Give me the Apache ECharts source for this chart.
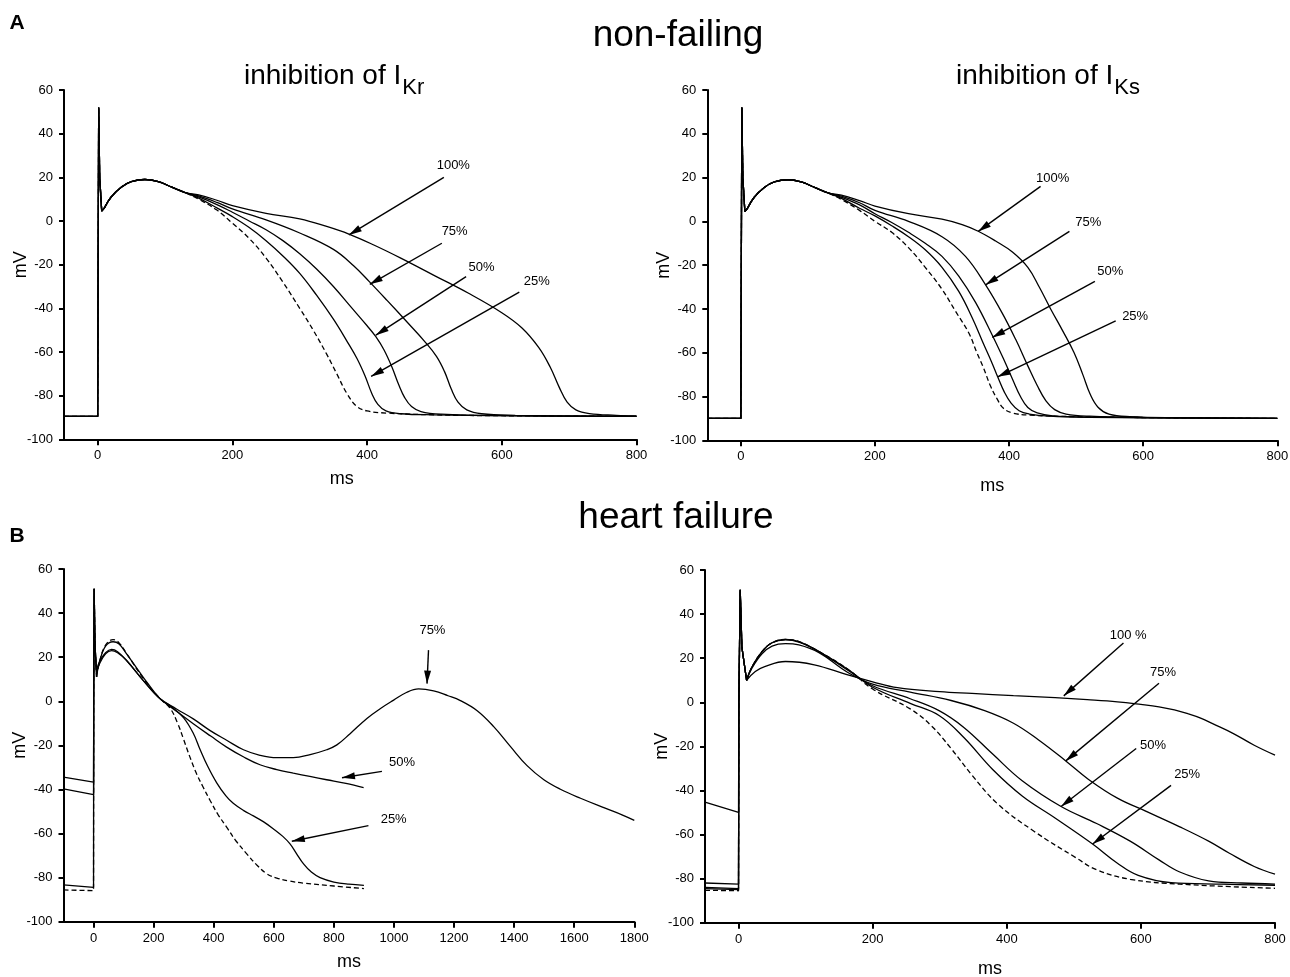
<!DOCTYPE html>
<html>
<head>
<meta charset="utf-8">
<script src="https://cdn.jsdelivr.net/npm/echarts@6.0.0/dist/echarts.min.js"></script>
<style>
html,body{margin:0;padding:0;background:#fff;}
#c{width:1290px;height:977px;}
</style>
</head>
<body>
<div id="c"></div>
<script>
// ================= DATA (time in ms, membrane potential in mV) =================
// Axis ticks
const msTicksShort = [0, 200, 400, 600, 800];
const msTicksLong = [0, 200, 400, 600, 800, 1000, 1200, 1400, 1600, 1800];
const mvTicks = [-100, -80, -60, -40, -20, 0, 20, 40, 60];

// ---- A, non-failing, inhibition of IKr ----
const nfKrControl = [[-50,-89.5],[0,-89.5],[0.5,-40],[1.5,52],[3,20],[6,4.5],[10,6],[20,11],[35,15.5],[50,18],[70,19],[90,18],[110,15.5],[130,13],[150,10],[177,5],[200,-1],[225,-8],[250,-17],[275,-28],[300,-40],[320,-50],[340,-61],[355,-70],[370,-79],[385,-85],[400,-87],[430,-88],[500,-88.8],[600,-89.2],[800,-89.5]];
const nfKr25 = [[-50,-89.5],[0,-89.5],[0.5,-40],[1.5,52],[3,20],[6,4.5],[10,6],[20,11],[35,15.5],[50,18],[70,19],[90,18],[110,15.5],[130,13],[150,10.5],[177,6],[200,2],[225,-3],[250,-9],[275,-16],[300,-24],[325,-34],[350,-45],[370,-55],[385,-63],[397,-71],[407,-79],[416,-84],[428,-87],[450,-88.3],[500,-88.8],[600,-89.2],[800,-89.5]];
const nfKr50 = [[-50,-89.5],[0,-89.5],[0.5,-40],[1.5,52],[3,20],[6,4.5],[10,6],[20,11],[35,15.5],[50,18],[70,19],[90,18],[110,15.5],[130,13],[150,11],[177,7.5],[200,4],[225,0],[250,-4],[275,-9],[300,-15],[325,-22],[350,-30],[375,-39],[400,-48],[413,-53],[425,-59],[437,-67],[447,-75],[456,-81],[466,-85],[480,-87.3],[510,-88.5],[600,-89.2],[800,-89.5]];
const nfKr75 = [[-50,-89.5],[0,-89.5],[0.5,-40],[1.5,52],[3,20],[6,4.5],[10,6],[20,11],[35,15.5],[50,18],[70,19],[90,18],[110,15.5],[130,13],[150,11.5],[177,8.5],[200,5.5],[250,0.5],[300,-5.5],[350,-13],[380,-20.5],[404,-28],[430,-36.5],[460,-46.5],[485,-55],[503,-62],[515,-69],[525,-77],[535,-83],[548,-86.5],[570,-88.3],[620,-89],[800,-89.5]];
const nfKr100 = [[-50,-89.5],[0,-89.5],[0.5,-40],[1.5,52],[3,20],[6,4.5],[10,6],[20,11],[35,15.5],[50,18],[70,19],[90,18],[110,15.5],[130,13],[150,12],[177,9.5],[200,7],[250,3.5],[300,1],[340,-2.5],[373,-6],[410,-11],[450,-17],[500,-25],[550,-33],[600,-42],[630,-49],[655,-58],[672,-67],[685,-76],[697,-83],[710,-86.5],[730,-88.2],[770,-89],[800,-89.3]];
// arrows: [fromMs, fromMv, toMs, toMv]; labels at [ms, mV]
const nfKrArrows = [[514,20,373,-6.4],[511,-10.2,404,-29],[547,-25.5,413,-52.3],[626,-32.6,406,-71.2]];
const nfKrLabels = ['100%','75%','50%','25%'];
const nfKrLabelAt = [[528,25.5],[530,-4.8],[570,-21.2],[652,-27.8]];

// ---- A, non-failing, inhibition of IKs ----
const nfKsControl = [[-50,-90],[0,-90],[0.5,-40],[1.5,52],[3,20],[6,4.5],[10,6],[20,11],[35,15.5],[50,18],[70,19],[90,18],[110,15.5],[130,13],[150,10],[177,5],[200,0],[225,-5],[250,-12],[275,-21],[300,-31],[320,-41],[340,-51],[352,-60],[362,-67],[372,-75],[382,-81],[392,-85.5],[405,-87.5],[430,-88.5],[500,-89.2],[600,-89.6],[800,-90]];
const nfKs25 = [[-50,-90],[0,-90],[0.5,-40],[1.5,52],[3,20],[6,4.5],[10,6],[20,11],[35,15.5],[50,18],[70,19],[90,18],[110,15.5],[130,13],[150,10.5],[177,6],[200,2.5],[225,-2],[250,-7],[275,-13],[300,-21],[325,-32],[345,-44],[362,-56],[375,-65],[383,-71],[393,-78],[403,-83],[415,-86.5],[430,-88],[460,-89],[520,-89.5],[800,-90]];
const nfKs50 = [[-50,-90],[0,-90],[0.5,-40],[1.5,52],[3,20],[6,4.5],[10,6],[20,11],[35,15.5],[50,18],[70,19],[90,18],[110,15.5],[130,13],[150,11],[177,7.5],[200,3.5],[225,-0.5],[250,-5],[275,-10],[300,-16],[325,-25],[350,-37],[375,-52],[392,-63],[405,-72],[417,-80],[428,-85],[442,-87.5],[465,-88.8],[520,-89.4],[800,-90]];
const nfKs75 = [[-50,-90],[0,-90],[0.5,-40],[1.5,52],[3,20],[6,4.5],[10,6],[20,11],[35,15.5],[50,18],[70,19],[90,18],[110,15.5],[130,13],[150,11.5],[177,8.5],[200,5],[250,0],[300,-7],[335,-16],[365,-29],[390,-42],[410,-54],[428,-66],[442,-75],[455,-82],[468,-86],[485,-88],[520,-89],[600,-89.6],[800,-90]];
const nfKs100 = [[-50,-90],[0,-90],[0.5,-40],[1.5,52],[3,20],[6,4.5],[10,6],[20,11],[35,15.5],[50,18],[70,19],[90,18],[110,15.5],[130,13],[150,12],[177,9.5],[200,7],[250,3.5],[300,1],[330,-1.5],[354,-4.5],[380,-9],[405,-14],[428,-21],[445,-30],[462,-40],[480,-50],[497,-60],[510,-70],[521,-79],[533,-85],[549,-88],[580,-89.2],[650,-89.7],[800,-90]];
const nfKsArrows = [[447,16,354,-4.6],[490,-4.6,365,-29],[528,-27.4,375,-53],[559,-45.4,383,-71]];
const nfKsLabels = ['100%','75%','50%','25%'];
const nfKsLabelAt = [[465,19.5],[518,-0.5],[551,-23],[588,-43.5]];

// ---- B, heart failure, inhibition of IKr ----
const hfKrControl = [[-100,-85.6],[0,-85.9],[0.5,0],[2,51],[5,25],[10,11],[20,18],[40,25.5],[65,28],[85,26.5],[110,21.7],[165,10.5],[221,1.2],[254,-3],[280,-10],[299,-17],[320,-25],[343,-32.9],[365,-39],[388,-45],[415,-51.5],[443,-57.1],[475,-63.5],[510,-69.2],[545,-74.5],[577,-78.3],[610,-80.2],[650,-81.5],[700,-82.5],[800,-83.8],[900,-85]];
const hfKr25 = [[-100,-83.3],[0,-84.4],[0.5,0],[2,51],[5,25],[10,11],[20,18],[40,25],[65,27],[85,26],[110,21.5],[165,11],[221,1.2],[260,-2.5],[300,-7.5],[332,-14.5],[355,-22],[380,-29.5],[410,-37],[440,-42.8],[465,-46.3],[500,-49.6],[532,-52],[565,-54.6],[599,-57.9],[630,-61.3],[654,-64.7],[675,-69],[699,-73.8],[725,-77.5],[754,-80],[800,-82],[850,-83],[900,-83.5]];
const hfKr50 = [[-100,-39.7],[0,-42.4],[0.5,0],[2,51],[5,25],[10,13],[20,17],[40,21.5],[60,23],[80,22],[110,18.5],[165,9.5],[221,1.2],[276,-4.5],[332,-10.2],[390,-15.8],[443,-20.8],[500,-25.3],[554,-28.8],[610,-31],[665,-32.6],[720,-34.1],[776,-35.6],[840,-37.3],[899,-39.2]];
const hfKr75 = [[-100,-34.4],[0,-36.7],[0.5,0],[2,51],[5,25],[10,14],[20,18],[40,22],[60,23.5],[80,22.5],[110,18.5],[165,9.5],[221,1.2],[276,-3.5],[332,-8],[387,-13.2],[443,-17.7],[499,-22],[554,-24.5],[610,-25.6],[665,-25.6],[721,-24.2],[776,-22],[810,-19.8],[854,-14.7],[910,-7.8],[954,-3.4],[999,0.5],[1043,4.1],[1082,5.6],[1132,4.7],[1180,2.5],[1221,0.3],[1277,-4.3],[1332,-11.5],[1388,-20.6],[1443,-29.2],[1499,-35.6],[1554,-39.9],[1621,-44],[1703,-48.5],[1759,-51.5],[1800,-54]];
const hfKrArrows = [[1115,23.2,1110,8],[960,-31.8,827,-34.7],[915,-56.4,660,-63.5]];
const hfKrLabels = ['75%','50%','25%'];
const hfKrLabelAt = [[1128,32],[1027,-27.6],[999,-53.5]];

// ---- B, heart failure, inhibition of IKs ----
const hfKsControl = [[-50,-85.3],[0,-85.5],[0.5,0],[2.5,51],[5,25],[12,10],[20,16],[35,23],[50,27],[70,28.5],[90,27.5],[120,23],[163,15],[200,6],[256,-3],[287,-10.5],[317,-21],[348,-33],[386,-46],[441,-58.6],[503,-70.5],[534,-76],[584,-80.3],[658,-82.5],[800,-84.4]];
const hfKs25 = [[-50,-84.5],[0,-85],[0.5,0],[2.5,51],[5,25],[12,10],[20,16],[35,23],[50,27],[70,28.5],[90,27.5],[120,23],[163,15],[200,6.8],[256,-0.5],[299,-6],[336,-16],[379,-30.5],[423,-42.5],[472,-52.5],[528,-64.3],[565,-73],[596,-78.5],[645,-81.8],[720,-82.5],[800,-83]];
const hfKs50 = [[-50,-84],[0,-84.5],[0.5,0],[2.5,51],[5,25],[12,10],[20,16],[35,23],[50,27],[70,28.3],[90,27.3],[120,23],[163,14.5],[200,7.5],[256,1.6],[299,-3.8],[336,-11.4],[379,-23.5],[423,-35.6],[481,-47.3],[534,-55],[584,-63],[627,-71.5],[658,-77],[701,-81],[750,-82],[800,-82.5]];
const hfKs75 = [[-50,-82],[0,-82.5],[0.5,0],[2.5,51],[5,25],[12,10],[20,15.5],[35,22],[50,25.5],[70,26.6],[90,26],[120,22.5],[163,13.5],[200,8.2],[256,4.6],[317,0.8],[367,-3.8],[410,-9.5],[447,-17],[488,-26.6],[522,-35],[565,-43.5],[608,-49.5],[658,-56.5],[701,-63],[732,-68.5],[769,-74.5],[800,-78]];
const hfKs100 = [[-50,-45.3],[0,-49.9],[0.5,0],[2.5,51],[5,25],[12,10],[25,14],[39,16.2],[70,18.5],[113,17],[163,12.4],[200,9.3],[237,6.6],[300,4.8],[348,4],[410,3],[472,2.1],[520,1.2],[565,0.2],[600,-1],[627,-2.1],[650,-3.5],[670,-5.2],[690,-7.3],[707,-9.7],[738,-14.2],[769,-19.5],[800,-24]];
const hfKsArrows = [[574,26.9,485,2.9],[627,8.6,488,-26.6],[593,-21,481,-47.3],[645,-37.7,528,-64.3]];
const hfKsLabels = ['100 %','75%','50%','25%'];
const hfKsLabelAt = [[581,30.5],[633,13.5],[618,-19.5],[669,-32.7]];

// ================= CHART =================
const FONT = '"Liberation Sans", Arial, Helvetica, sans-serif';
const ARROW = 'path://M5,0L10,20L0,20Z';

const panels = [
  {grid:{left:64, top:90, width:572.5, height:349.3}, x:[-50,800], xt:msTicksShort, gap:31, namePad:[0,17,0,0],
   curves:[[nfKrControl,true],[nfKr25,false],[nfKr50,false],[nfKr75,false],[nfKr100,false]],
   arrows:nfKrArrows, labels:nfKrLabels, labelAt:nfKrLabelAt},
  {grid:{left:707.3, top:90, width:570, height:350.3}, x:[-50,800], xt:msTicksShort, gap:37, namePad:[0,0,0,0],
   curves:[[nfKsControl,true],[nfKs25,false],[nfKs50,false],[nfKs75,false],[nfKs100,false]],
   arrows:nfKsArrows, labels:nfKsLabels, labelAt:nfKsLabelAt},
  {grid:{left:63.5, top:569, width:570.8, height:352.7}, x:[-100,1800], xt:msTicksLong, gap:31, namePad:[0,0,0,0],
   curves:[[hfKrControl,true],[hfKr25,false],[hfKr50,false],[hfKr75,false]],
   arrows:hfKrArrows, labels:hfKrLabels, labelAt:hfKrLabelAt},
  {grid:{left:705, top:570, width:570, height:352.7}, x:[-50,800], xt:msTicksShort, gap:37, namePad:[0,0,0,0],
   curves:[[hfKsControl,true],[hfKs25,false],[hfKs50,false],[hfKs75,false],[hfKs100,false]],
   arrows:hfKsArrows, labels:hfKsLabels, labelAt:hfKsLabelAt}
];

const grid = [], xAxis = [], yAxis = [], series = [];

panels.forEach((p, g) => {
  grid.push(Object.assign({containLabel:false, outerBoundsMode:'none'}, p.grid));
  xAxis.push({
    type:'value', gridIndex:g, min:p.x[0], max:p.x[1],
    name:'ms', nameLocation:'middle', nameGap:p.gap, nameMoveOverlap:false,
    nameTextStyle:{fontSize:18, color:'#000', fontFamily:FONT, padding:p.namePad},
    axisLine:{show:true, onZero:false, lineStyle:{color:'#000', width:2}},
    axisTick:{show:true, customValues:p.xt, length:6, lineStyle:{color:'#000', width:2}},
    axisLabel:{show:true, customValues:p.xt, formatter:v => String(v), color:'#000', fontSize:13, fontFamily:FONT, margin:10},
    splitLine:{show:false}
  });
  yAxis.push({
    type:'value', gridIndex:g, min:-100, max:60, interval:20,
    name:'mV', nameLocation:'middle', nameGap:34, nameMoveOverlap:false,
    nameTextStyle:{fontSize:18, color:'#000', fontFamily:FONT},
    axisLine:{show:true, onZero:false, lineStyle:{color:'#000', width:2}},
    axisTick:{show:true, customValues:mvTicks, length:5, lineStyle:{color:'#000', width:2}},
    axisLabel:{show:true, customValues:mvTicks, formatter:v => String(v), color:'#000', fontSize:13, fontFamily:FONT, margin:11},
    splitLine:{show:false}
  });
  p.curves.forEach(([pts, dashed]) => {
    const split = pts.findIndex(q => q[0] >= 10);
    const ls = {color:'#000', width:1.3, type: dashed ? [5,3] : 'solid'};
    series.push({type:'line', xAxisIndex:g, yAxisIndex:g, data:pts.slice(0, split + 1),
      showSymbol:false, symbol:'none', smooth:false, lineStyle:ls, silent:true, z:3});
    series.push({type:'line', xAxisIndex:g, yAxisIndex:g, data:pts.slice(split),
      showSymbol:false, symbol:'none', smooth:0.4, lineStyle:ls, silent:true, z:3});
  });
  series.push({
    type:'scatter', xAxisIndex:g, yAxisIndex:g, symbolSize:1, silent:true, z:5,
    itemStyle:{color:'transparent', opacity:1},
    data:p.labels.map((t, i) => ({name:t, value:p.labelAt[i]})),
    label:{show:true, position:'inside', formatter:'{b}', color:'#000', opacity:1, textBorderWidth:0, fontSize:13, fontFamily:FONT},
    markLine:{
      silent:true, animation:false,
      label:{show:false},
      lineStyle:{color:'#000', width:1.4, type:'solid', opacity:1},
      data:p.arrows.map(a => [
        {coord:[a[0], a[1]], symbol:'none'},
        {coord:[a[2], a[3]], symbol:ARROW, symbolSize:[7,13], symbolOffset:[0,6.5]}
      ])
    }
  });
});

// subtitle with subscript: measure main text to place subscript right after it
const measureCtx = document.createElement('canvas').getContext('2d');
function textWidth(txt, font) { measureCtx.font = font; return measureCtx.measureText(txt).width; }
const SUB_MAIN_FONT = '28px ' + FONT;
const SUB_SUB_FONT = '22px ' + FONT;
const mainW = textWidth('inhibition of I', SUB_MAIN_FONT);

const graphic = [
  {type:'text', x:17, y:23, style:{text:'A', font:'bold 21px ' + FONT, fill:'#000', align:'center', verticalAlign:'middle'}},
  {type:'text', x:17, y:536, style:{text:'B', font:'bold 21px ' + FONT, fill:'#000', align:'center', verticalAlign:'middle'}},
  {type:'text', x:678, y:36, style:{text:'non-failing', font:'37px ' + FONT, fill:'#000', align:'center', verticalAlign:'middle'}},
  {type:'text', x:676, y:518, style:{text:'heart failure', font:'37px ' + FONT, fill:'#000', align:'center', verticalAlign:'middle'}},
  {type:'text', x:244, y:76, style:{text:'inhibition of I', font:SUB_MAIN_FONT, fill:'#000', align:'left', verticalAlign:'middle'}},
  {type:'text', x:244 + mainW + 1, y:88, style:{text:'Kr', font:SUB_SUB_FONT, fill:'#000', align:'left', verticalAlign:'middle'}},
  {type:'text', x:956, y:76, style:{text:'inhibition of I', font:SUB_MAIN_FONT, fill:'#000', align:'left', verticalAlign:'middle'}},
  {type:'text', x:956 + mainW + 1, y:88, style:{text:'Ks', font:SUB_SUB_FONT, fill:'#000', align:'left', verticalAlign:'middle'}}
];

const chart = echarts.init(document.getElementById('c'), null, {renderer:'canvas', width:1290, height:977});
chart.setOption({
  backgroundColor:'#fff',
  animation:false,
  textStyle:{fontFamily:FONT},
  grid, xAxis, yAxis, series, graphic
});
</script>
</body>
</html>
